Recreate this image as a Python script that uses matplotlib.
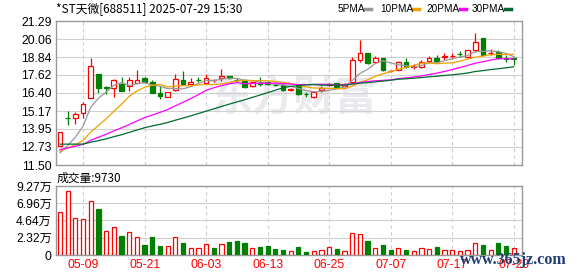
import pandas as pd
import matplotlib
import matplotlib.pyplot as plt
from matplotlib.lines import Line2D

matplotlib.use('Agg')
plt.rcParams['font.family'] = ['Liberation Sans', 'Noto Sans CJK SC']

# daily candles 05-06 .. 07-29
opens = [12.80, 14.72, 14.68, 15.02, 16.04, 17.69, 16.78, 16.72, 16.99, 16.87,
         17.10, 17.39, 17.16, 16.38, 16.10, 16.60, 17.28, 17.01, 17.30, 17.05,
         17.26, 17.40, 17.55, 17.30, 17.21, 16.87, 17.06, 17.16, 16.97, 16.94,
         16.62, 16.87, 16.32, 16.10, 16.62, 16.96, 17.06, 16.85, 17.16, 18.64,
         19.09, 18.52, 18.75, 17.87, 17.96, 18.52, 18.14, 18.18, 18.60, 18.80,
         18.86, 18.89, 19.06, 18.84, 19.32, 20.14, 19.12, 19.20, 18.76, 18.78]
highs = [13.75, 15.17, 15.12, 15.80, 18.80, 17.69, 16.85, 17.35, 17.46, 17.46,
         17.96, 17.50, 17.28, 16.87, 16.44, 17.69, 17.91, 17.44, 17.50, 17.69,
         17.35, 18.03, 17.58, 17.40, 17.35, 17.20, 17.46, 17.20, 17.05, 17.00,
         16.72, 16.90, 16.48, 16.50, 16.87, 17.06, 17.10, 17.05, 18.86, 20.00,
         19.09, 18.91, 18.80, 17.98, 18.55, 18.75, 18.35, 18.64, 18.91, 18.98,
         19.09, 19.09, 19.23, 19.32, 20.47, 20.14, 19.39, 19.32, 18.98, 18.84]
lows = [12.78, 14.22, 14.30, 14.70, 16.04, 16.42, 16.31, 16.14, 16.55, 16.53,
        17.10, 17.10, 16.38, 15.99, 16.10, 16.55, 16.94, 16.94, 17.14, 17.05,
        17.16, 17.21, 17.33, 17.14, 16.71, 16.80, 16.89, 16.95, 16.85, 16.55,
        16.55, 16.26, 16.15, 16.08, 16.48, 16.90, 16.80, 16.80, 17.10, 18.52,
        18.35, 18.41, 17.89, 17.80, 17.96, 18.10, 18.00, 18.12, 18.41, 18.41,
        18.64, 18.70, 18.86, 18.75, 19.20, 18.98, 18.98, 18.69, 18.52, 18.30]
closes = [13.72, 14.68, 14.95, 15.63, 18.23, 16.72, 16.75, 17.26, 16.55, 17.26,
          17.28, 17.16, 16.38, 16.21, 16.44, 17.33, 17.01, 17.16, 17.26, 17.44,
          17.30, 17.55, 17.40, 17.26, 16.82, 17.16, 17.03, 17.00, 16.94, 16.60,
          16.65, 16.33, 16.30, 16.48, 16.75, 17.01, 16.83, 16.99, 18.64, 19.14,
          18.45, 18.75, 17.96, 17.89, 18.52, 18.18, 18.20, 18.52, 18.80, 18.55,
          18.89, 18.91, 19.04, 19.32, 19.84, 18.98, 19.14, 18.75, 18.72, 18.74]
# volume, 万
volumes = [5.73, 8.60, 4.93, 4.79, 7.25, 6.18, 3.22, 3.72, 2.55, 3.05,
           2.37, 1.34, 2.37, 1.21, 1.16, 2.37, 1.61, 0.94, 0.94, 1.43,
           0.94, 1.43, 1.75, 1.88, 1.61, 0.94, 1.03, 1.21, 0.81, 0.67,
           0.49, 1.12, 0.40, 0.49, 0.67, 1.03, 0.81, 0.49, 2.91, 2.78,
           1.88, 0.90, 1.34, 0.67, 0.90, 0.67, 0.49, 0.90, 0.81, 1.07,
           0.67, 0.63, 0.49, 0.63, 1.57, 1.34, 0.67, 1.57, 1.21, 0.973]
# closes before the window, only needed to seed the moving averages
earlier_closes = [14.68, 14.95, 15.60, 14.30, 13.60, 13.10, 12.80, 12.60, 12.50, 12.40,
                  12.50, 12.70, 12.90, 12.80, 12.60, 12.70, 12.60, 12.50, 12.70, 12.50,
                  12.60, 12.80, 12.70, 12.50, 12.30, 12.20, 12.10, 11.90, 11.70]

date_ticks = [3, 11, 19, 27, 35, 43, 51, 59]
date_labels = ['05-09', '05-21', '06-03', '06-13', '06-25', '07-07', '07-17', '07-29']
price_ticks = [11.50, 12.73, 13.95, 15.17, 16.40, 17.62, 18.84, 20.06, 21.29]
vol_ticks = [0, 2.32, 4.64, 6.96, 9.27]
vol_labels = ['0', '2.32万', '4.64万', '6.96万', '9.27万']

ma_periods = [5, 10, 20, 30]
ma_colors = ['#999999', '#f0a000', '#ff00ff', '#006b30']

RED = '#ff0000'
GREEN = '#008000'

n = len(closes)
x = list(range(n))

fig = plt.figure(figsize=(5.78, 2.76), dpi=100)
W, H = 578, 276
ax = fig.add_axes([56 / W, 1 - 165 / H, 466 / W, 144 / H])
axv = fig.add_axes([56 / W, 1 - 255 / H, 466 / W, 69 / H])

# watermark
ax.text(0.51, 0.47, '东方财富', transform=ax.transAxes, fontsize=30,
        fontweight='bold', color='#e9e9ee', ha='center', va='center',
        family=['Noto Sans CJK SC'], zorder=0)

# candles
for i in x:
    o, h, l, c = opens[i], highs[i], lows[i], closes[i]
    col = RED if c >= o else GREEN
    ax.vlines(i, l, h, color=col, linewidth=0.9, zorder=2)
    body = max(abs(c - o), 0.02)
    ax.bar(i, body, bottom=min(o, c), width=0.62,
           facecolor='white' if c >= o else GREEN, edgecolor=col,
           linewidth=0.9, zorder=3)

# moving averages
s = pd.Series(earlier_closes + closes)
for p, col in zip(ma_periods, ma_colors):
    ma = s.rolling(p).mean().iloc[-n:].values
    ax.plot(x, ma, color=col, linewidth=0.9, zorder=4)

# volume bars, coloured against the previous close
prev = [earlier_closes[-1]] + closes[:-1]
for i in x:
    up = closes[i] >= prev[i]
    axv.bar(i, volumes[i], width=0.55, facecolor='white' if up else GREEN,
            edgecolor=RED if up else GREEN, linewidth=0.9, zorder=3)

for a in (ax, axv):
    a.set_xlim(-0.52, 60.08)
    for d in date_ticks:
        a.axvline(d, color='#cccccc', linestyle=(0, (3, 3)), linewidth=0.8, zorder=1)
    for sp in a.spines.values():
        sp.set_color('#999999')
        sp.set_linewidth(1.0)
    a.tick_params(length=0, labelsize=8.7, pad=3)

ax.set_ylim(11.50, 21.29)
ax.set_yticks(price_ticks)
ax.set_yticklabels(['%.2f' % t for t in price_ticks])
ax.set_xticks([])
for t in price_ticks[1:-1]:
    ax.axhline(t, color='#d0d0d0', linewidth=0.8, zorder=1)

axv.set_ylim(0, 9.27)
axv.set_yticks(vol_ticks)
axv.set_yticklabels(vol_labels)
axv.set_xticks(date_ticks)
axv.set_xticklabels(date_labels, color=RED)
for t in vol_ticks[1:-1]:
    axv.axhline(t, color='#d0d0d0', linewidth=0.8, zorder=1)

# header texts
fig.text(56 / W, 1 - 9 / H, '*ST天微[688511] 2025-07-29 15:30', fontsize=8.5,
         va='center', family=['Noto Sans CJK SC', 'DejaVu Sans'])
fig.text(57 / W, 1 - 178 / H, '成交量:9730', fontsize=8.5, va='center',
         family=['Noto Sans CJK SC', 'DejaVu Sans'])

# legend
leg_x = [338, 380, 426, 472]
mark_x = [365, 413, 460, 505]
for p, col, lx, mx in zip(ma_periods, ma_colors, leg_x, mark_x):
    fig.text(lx / W, 1 - 9 / H, '%dPMA' % p, fontsize=7.2, va='center')
    fig.add_artist(Line2D([mx / W, (mx + 6) / W], [1 - 9 / H, 1 - 9 / H],
                          color=col, linewidth=2.5, transform=fig.transFigure))

fig.text(513 / W, 1 - 260 / H, 'www.365jz.com', fontsize=11.5, fontweight='bold',
         color='#1f3f73', ha='center', va='center', family=['Liberation Serif'])

fig.savefig('out.png', dpi=100)
